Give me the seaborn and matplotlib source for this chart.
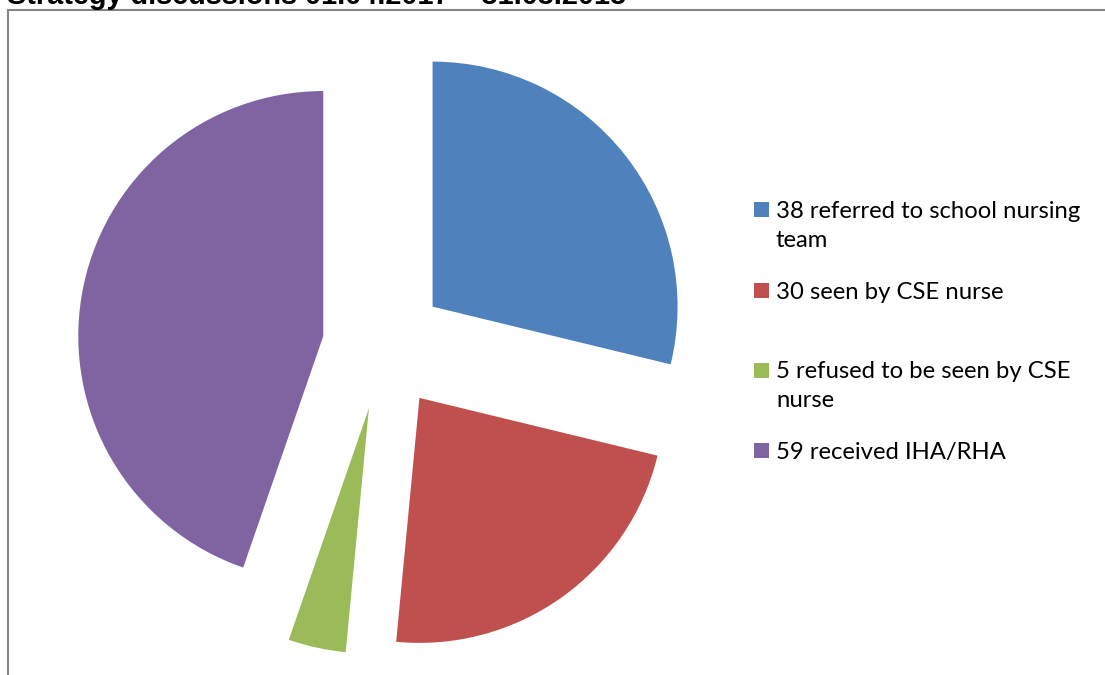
import matplotlib
matplotlib.use("Agg")
import matplotlib.pyplot as plt
from matplotlib.patches import Rectangle
import seaborn as sns

labels = ["38 referred to school nursing\nteam", "30 seen by CSE nurse",
          "5 refused to be seen by CSE\nnurse", "59 received IHA/RHA"]
values = [38, 30, 5, 59]
colors = ["#4F81BD", "#C0504D", "#9BBB59", "#8064A2"]
title = "Strategy discussions 01.04.2017 \u2013 31.03.2018"

sns.set_theme(style="white")
plt.rcParams['font.family'] = ['Liberation Sans', 'DejaVu Sans']

W, H = 1105, 675
fig = plt.figure(figsize=(W / 100, H / 100), dpi=100)

# pie axes: center (381.5, 346) px from top-left, radius 245 px
cx, cy, R = 382.5, 346, 245
hw, hh = 330, 320
ax = fig.add_axes([(cx - hw) / W, (H - cy - hh) / H, 2 * hw / W, 2 * hh / H])
ax.pie(values, colors=sns.color_palette(colors), startangle=90, counterclock=False,
       explode=[0.26, 0.26, 0.26, 0.245], radius=1, wedgeprops=dict(linewidth=0))
ax.set_xlim(-hw / R, hw / R)
ax.set_ylim(-hh / R, hh / R)
ax.set_aspect('equal')
ax.axis('off')

# frame
fig.patches.append(Rectangle((8 / W, -0.05), 1.2, 1 - 10 / H + 0.05, transform=fig.transFigure,
                             fill=False, edgecolor="#868686", linewidth=1.5))

# title (cut off at top as in reference)
fig.text(7 / W, 1 - 4.5 / H, title, fontsize=20.8, fontweight='bold', ha='left',
         va='baseline', color='black')

# legend
ys = [209.5, 290, 370, 450]
for lab, col, y in zip(labels, colors, ys):
    fig.patches.append(Rectangle((754 / W, 1 - (y + 7.5) / H), 15 / W, 15 / H,
                                 transform=fig.transFigure, color=col, linewidth=0))
    fig.text(776 / W, 1 - (y - 8.5) / H, lab, fontsize=17.2, family=['Lato', 'DejaVu Sans'],
             ha='left', va='top', linespacing=1.45, color='black')

fig.savefig("out.png", dpi=100)
